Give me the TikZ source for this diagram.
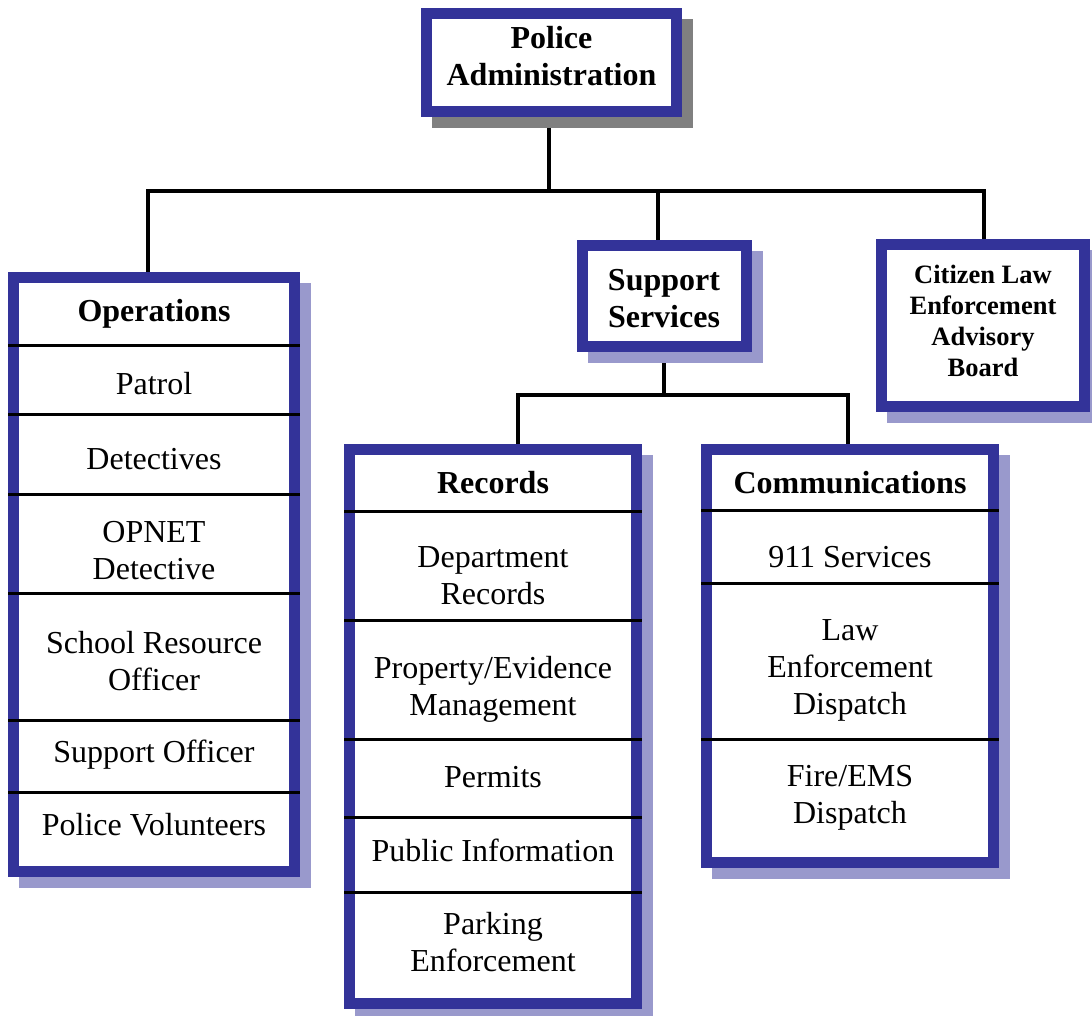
\documentclass[tikz,border=0pt]{standalone}
\usepackage{fontspec}
\setmainfont{Liberation Serif}
\usetikzlibrary{backgrounds}
\definecolor{navyc}{HTML}{333399}
\definecolor{lavc}{HTML}{9999CC}
\definecolor{grayc}{HTML}{808080}
\begin{document}
\begin{tikzpicture}[x=1pt,y=-1pt,
  box/.style={draw=navyc, line width=11pt, fill=white, inner sep=0pt, outer sep=5.5pt, rectangle},
  txt/.style={align=center, inner sep=0pt, font=\fontsize{32}{37}\selectfont,
              execute at begin node=\strut, execute at end node=\strut},
  ttl/.style={txt, font=\fontsize{32}{37}\selectfont\bfseries},
  small/.style={align=center, inner sep=0pt, font=\fontsize{26.5}{31}\selectfont\bfseries,
              execute at begin node=\strut, execute at end node=\strut},
  conn/.style={line width=3.5pt, line join=miter},
  divider/.style={line width=3pt},
  shad/.style={fill=lavc}
]
\useasboundingbox (0,0) rectangle (1092,1015);

% boxes
\node[box, minimum width=250pt, minimum height=98pt]  (admin)   at (551.5,62.5) {};
\node[box, minimum width=281pt, minimum height=594pt] (ops)     at (154,574.5) {};
\node[box, minimum width=164pt, minimum height=101pt] (support) at (664.5,296) {};
\node[box, minimum width=203pt, minimum height=162pt] (citizen) at (983,325.5) {};
\node[box, minimum width=287pt, minimum height=554pt] (records) at (493,726.5) {};
\node[box, minimum width=287pt, minimum height=413pt] (comm)    at (850,656) {};

% junction coordinates
\coordinate (jtop) at (549,191);
\coordinate (jops) at (148,191);
\coordinate (jsup) at (658,191);
\coordinate (jcit) at (984,191);
\coordinate (jmid) at (664,395);
\coordinate (jrec) at (518,395);
\coordinate (jcom) at (848,395);

\begin{scope}[on background layer]
  % connectors
  \draw[conn] (admin.south -| jtop) -- (jtop);
  \draw[conn] (ops.north -| jops) -- (jops) -- (jcit) -- (citizen.north -| jcit);
  \draw[conn] (jsup) -- (support.north -| jsup);
  \draw[conn] (support.south -| jmid) -- (jmid);
  \draw[conn] (records.north -| jrec) -- (jrec) -- (jcom) -- (comm.north -| jcom);
  % shadows
  \fill[grayc] ([shift={(11pt,-11pt)}]admin.north west) rectangle ([shift={(11pt,-11pt)}]admin.south east);
  \foreach \b in {ops,support,citizen,records,comm}
    \fill[shad] ([shift={(11pt,-11pt)}]\b.north west) rectangle ([shift={(11pt,-11pt)}]\b.south east);
\end{scope}

% dividers
\foreach \y in {345,414,494,593,720,792}
  \draw[divider] (ops.west |- 0,\y) -- (ops.east |- 0,\y);
\foreach \y in {511,620,739,817,892}
  \draw[divider] (records.west |- 0,\y) -- (records.east |- 0,\y);
\foreach \y in {510,583,739}
  \draw[divider] (comm.west |- 0,\y) -- (comm.east |- 0,\y);

% texts
\node[ttl] (admint) at (551.5,61) {Police\\Administration};
\node[ttl] (supt) at (664,304) {Support\\Services};
\node[small] (citt) at (983,325.5) {Citizen Law\\Enforcement\\Advisory\\Board};

\node[ttl] (opst) at (154,314) {Operations};
\node[txt] (o1) at (154,387) {Patrol};
\node[txt] (o2) at (154,462) {Detectives};
\node[txt] (o3) at (154,556) {OPNET\\Detective};
\node[txt] (o4) at (154,666.5) {School Resource\\Officer};
\node[txt] (o5) at (154,755) {Support Officer};
\node[txt] (o6) at (154,828) {Police Volunteers};

\node[ttl] (rect) at (493,486) {Records};
\node[txt] (r1) at (493,581.5) {Department\\Records};
\node[txt] (r2) at (493,691.5) {Property/Evidence\\Management};
\node[txt] (r3) at (493,780) {Permits};
\node[txt] (r4) at (493,854) {Public Information};
\node[txt] (r5) at (493,947) {Parking\\Enforcement};

\node[ttl] (comt) at (850,486) {Communications};
\node[txt] (c1) at (850,560) {911 Services};
\node[txt] (c2) at (850,673) {Law\\Enforcement\\Dispatch};
\node[txt] (c3) at (850,800) {Fire/EMS\\Dispatch};
\end{tikzpicture}
\end{document}
